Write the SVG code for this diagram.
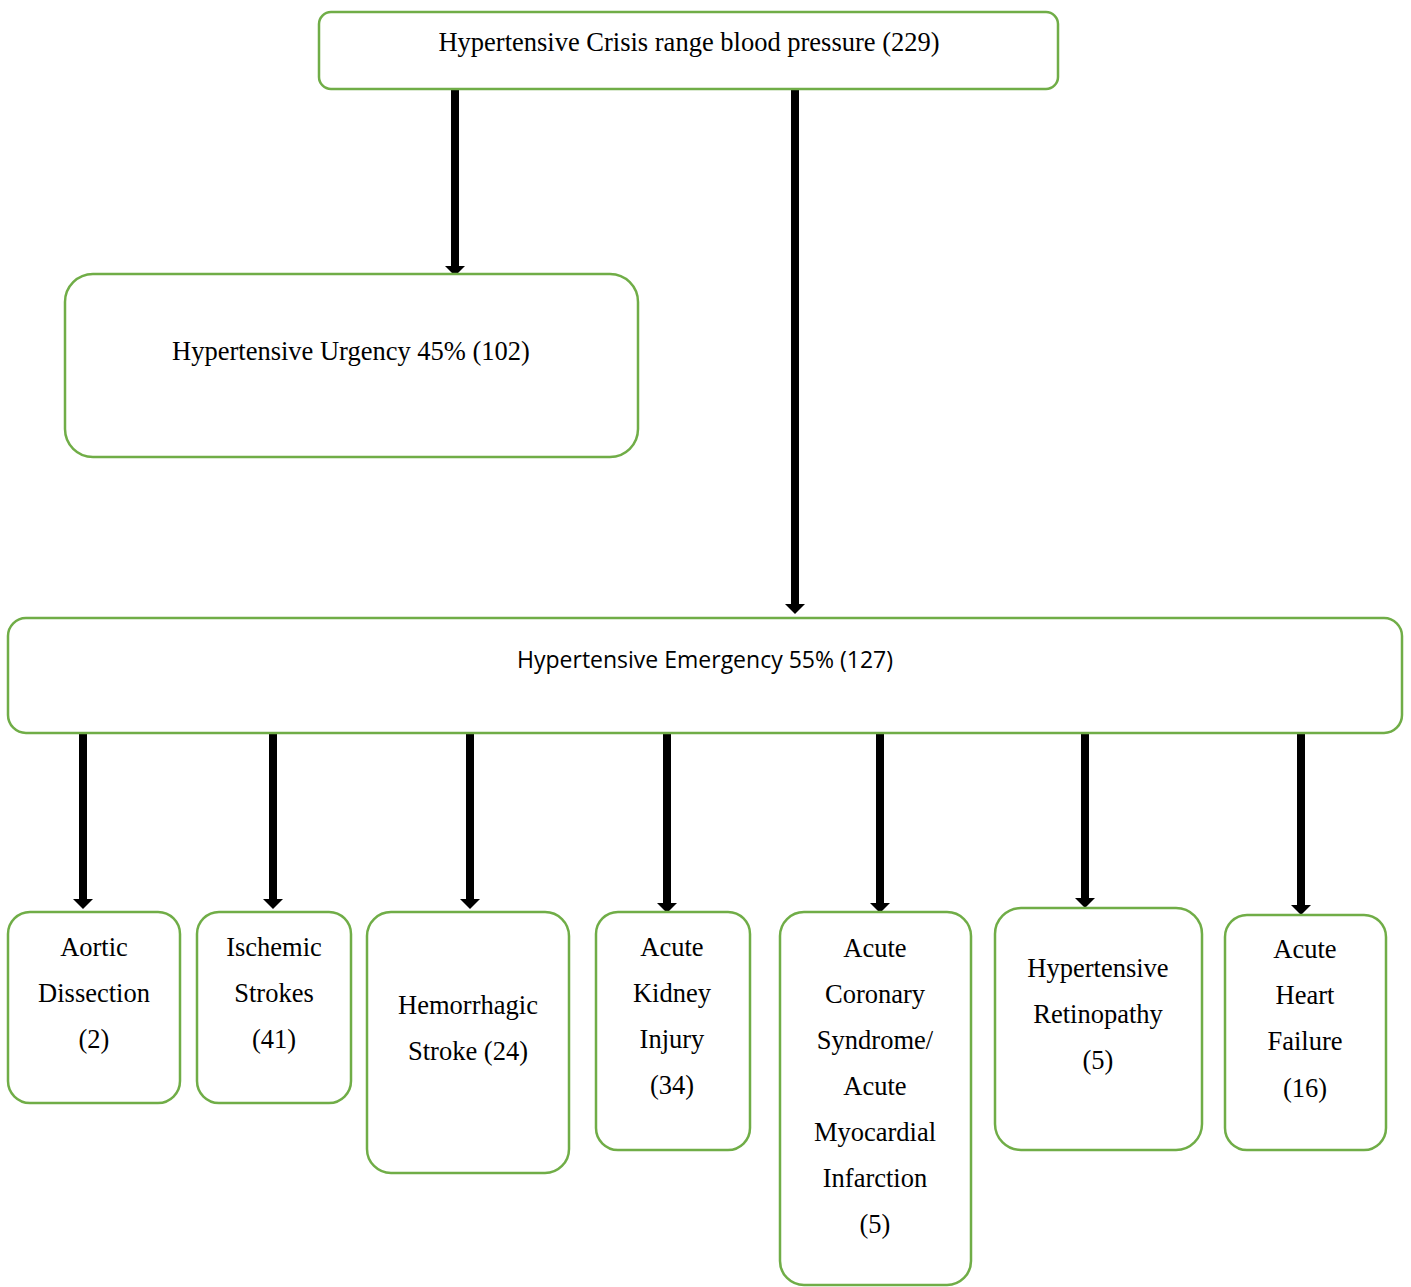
<svg xmlns="http://www.w3.org/2000/svg" width="1411" height="1287" viewBox="0 0 1411 1287">
<style>
.box{fill:#fff;stroke:#70AD47;stroke-width:2.5}
.t{font-family:"Liberation Serif","Times New Roman",serif;font-size:26.5px;fill:#000;text-anchor:middle}
.c{font-family:"Open Sans","Liberation Sans",sans-serif;font-size:23px;fill:#000;text-anchor:middle}
.a{stroke:#000;stroke-width:8;fill:none;marker-end:url(#ah)}
</style>
<defs>
<marker id="ah" markerUnits="userSpaceOnUse" markerWidth="10" markerHeight="20" viewBox="0 0 10 20" refX="0" refY="10" orient="auto">
<path d="M0,0 L10,10 L0,20 z" fill="#000"/>
</marker>
</defs>
<rect width="1411" height="1287" fill="#fff"/>
<g id="connectors">
<line class="a" x1="455" y1="89" x2="455" y2="266"/>
<line class="a" x1="795" y1="89" x2="795" y2="604"/>
<line class="a" x1="83" y1="733" x2="83" y2="899"/>
<line class="a" x1="273" y1="733" x2="273" y2="899"/>
<line class="a" x1="470" y1="733" x2="470" y2="899"/>
<line class="a" x1="667" y1="733" x2="667" y2="903"/>
<line class="a" x1="880" y1="733" x2="880" y2="903"/>
<line class="a" x1="1085" y1="733" x2="1085" y2="898" stroke-width="10"/>
<line class="a" x1="1301" y1="733" x2="1301" y2="905"/>
</g>
<g id="crisis">
<rect class="box" x="319" y="12" width="739" height="77" rx="12"/>
<text class="t" x="689" y="51">Hypertensive Crisis range blood pressure (229)</text>
</g>
<g id="urgency">
<rect class="box" x="65" y="274" width="573" height="183" rx="28"/>
<text class="t" x="351" y="360">Hypertensive Urgency 45% (102)</text>
</g>
<g id="emergency">
<rect class="box" x="8" y="618" width="1394" height="115" rx="18"/>
<text class="c" x="705" y="668">Hypertensive Emergency 55% (127)</text>
</g>
<g id="aortic">
<rect class="box" x="8" y="912" width="172" height="191" rx="22"/>
<text class="t" x="94" y="956">Aortic</text>
<text class="t" x="94" y="1002">Dissection</text>
<text class="t" x="94" y="1048">(2)</text>
</g>
<g id="ischemic">
<rect class="box" x="197" y="912" width="154" height="191" rx="22"/>
<text class="t" x="274" y="956">Ischemic</text>
<text class="t" x="274" y="1002">Strokes</text>
<text class="t" x="274" y="1048">(41)</text>
</g>
<g id="hemorrhagic">
<rect class="box" x="367" y="912" width="202" height="261" rx="24"/>
<text class="t" x="468" y="1014">Hemorrhagic</text>
<text class="t" x="468" y="1060">Stroke (24)</text>
</g>
<g id="aki">
<rect class="box" x="596" y="912" width="154" height="238" rx="22"/>
<text class="t" x="672" y="956">Acute</text>
<text class="t" x="672" y="1002">Kidney</text>
<text class="t" x="672" y="1048">Injury</text>
<text class="t" x="672" y="1094">(34)</text>
</g>
<g id="acs">
<rect class="box" x="780" y="912" width="191" height="373" rx="24"/>
<text class="t" x="875" y="957">Acute</text>
<text class="t" x="875" y="1003">Coronary</text>
<text class="t" x="875" y="1049">Syndrome/</text>
<text class="t" x="875" y="1095">Acute</text>
<text class="t" x="875" y="1141">Myocardial</text>
<text class="t" x="875" y="1187">Infarction</text>
<text class="t" x="875" y="1233">(5)</text>
</g>
<g id="retinopathy">
<rect class="box" x="995" y="908" width="207" height="242" rx="26"/>
<text class="t" x="1098" y="977">Hypertensive</text>
<text class="t" x="1098" y="1023">Retinopathy</text>
<text class="t" x="1098" y="1069">(5)</text>
</g>
<g id="heartfailure">
<rect class="box" x="1225" y="915" width="161" height="235" rx="22"/>
<text class="t" x="1305" y="958">Acute</text>
<text class="t" x="1305" y="1004">Heart</text>
<text class="t" x="1305" y="1050">Failure</text>
<text class="t" x="1305" y="1097">(16)</text>
</g>
</svg>
